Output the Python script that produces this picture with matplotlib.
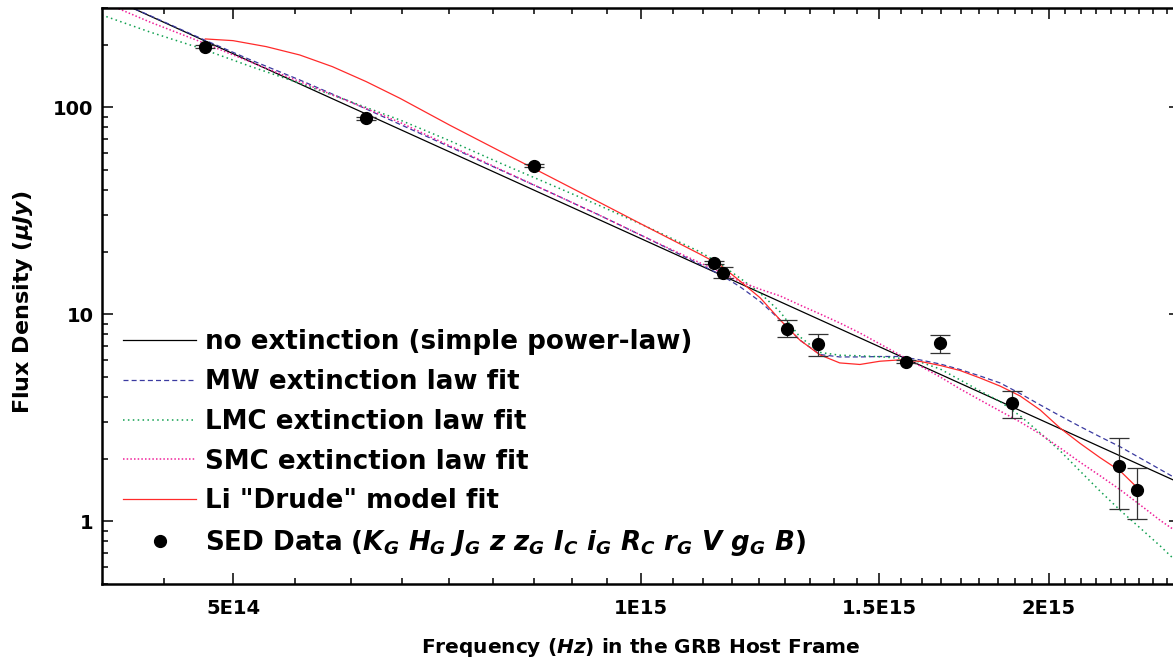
import numpy as np
import matplotlib
matplotlib.use("Agg")
import matplotlib.pyplot as plt
from matplotlib.ticker import FixedLocator, LogLocator, NullFormatter

# SED points (host-frame frequency in Hz, flux density in micro-Jy)
nu_data = [4.77e14, 6.27e14, 8.34e14, 1.132e15, 1.150e15, 1.282e15,
           1.352e15, 1.569e15, 1.663e15, 1.878e15, 2.253e15, 2.323e15]
flux_data = [196, 88.5, 52.2, 17.75, 15.9, 8.52, 7.19, 5.90, 7.24, 3.72, 1.85, 1.42]
flux_lo = [193, 87.2, 51.4, 17.5, 14.9, 7.74, 6.31, 5.82, 6.48, 3.17, 1.15, 1.02]
flux_hi = [199, 89.8, 53.0, 18.0, 16.9, 9.35, 8.03, 5.98, 7.94, 4.27, 2.53, 1.80]

# simple power law
nu_pl = [4.0e14, 1.0e15, 2.5e15]
flux_pl = [352, 23.2, 1.53]

# grid used for the MW / LMC / SMC fits
nu_fit = [4.00e14, 4.34e14, 4.73e14, 5.14e14, 5.60e14, 6.10e14, 6.64e14, 7.23e14,
          7.87e14, 8.57e14, 9.33e14, 1.015e15, 1.106e15, 1.144e15, 1.183e15,
          1.225e15, 1.267e15, 1.310e15, 1.356e15, 1.402e15, 1.451e15, 1.501e15,
          1.553e15, 1.607e15, 1.663e15, 1.720e15, 1.780e15, 1.841e15, 1.905e15,
          1.971e15, 2.039e15, 2.109e15, 2.182e15, 2.258e15, 2.336e15, 2.417e15,
          2.500e15]
flux_mw = [351.5, 277.6, 215.7, 170.4, 135.5, 106.4, 82.7, 64.3, 49.9, 38.8, 30.0,
           23.0, 17.4, 15.57, 13.61, 11.51, 9.39, 7.51, 6.39, 6.22, 6.22, 6.25, 6.25,
           6.02, 5.75, 5.41, 5.03, 4.66, 4.14, 3.65, 3.23, 2.87, 2.56, 2.29, 2.02,
           1.78, 1.57]
flux_lmc = [279.2, 231.1, 192.8, 158.3, 130.6, 106.7, 86.8, 68.8, 53.8, 42.4, 33.4,
            26.1, 20.0, 17.5, 14.98, 12.63, 10.26, 7.79, 6.54, 6.34, 6.30, 6.23, 6.13,
            5.88, 5.44, 4.82, 4.26, 3.79, 3.23, 2.67, 2.19, 1.75, 1.40, 1.13, 0.928,
            0.760, 0.615]
flux_smc = [324.4, 258.3, 207.5, 166.4, 133.0, 106.1, 84.5, 65.0, 50.2, 38.8, 30.0,
            23.0, 17.7, 16.0, 14.4, 13.2, 12.26, 11.09, 10.03, 9.08, 8.12, 7.19, 6.36,
            5.63, 4.98, 4.36, 3.85, 3.41, 3.02, 2.64, 2.26, 1.93, 1.66, 1.42, 1.20,
            1.01, 0.868]

# Li "Drude" model, only over the data range
nu_drude = [4.77e14, 5.00e14, 5.29e14, 5.60e14, 5.92e14, 6.27e14, 6.64e14, 7.23e14,
            7.87e14, 8.57e14, 9.33e14, 1.015e15, 1.106e15, 1.144e15, 1.183e15,
            1.225e15, 1.267e15, 1.310e15, 1.356e15, 1.402e15, 1.451e15, 1.501e15,
            1.553e15, 1.607e15, 1.663e15, 1.720e15, 1.780e15, 1.841e15, 1.905e15,
            1.971e15, 2.039e15, 2.109e15, 2.182e15, 2.258e15, 2.323e15]
flux_drude = [213.8, 209.8, 196.3, 178.9, 157.1, 133.0, 110.5, 81.8, 61.4, 46.1, 34.6,
              26.0, 19.5, 17.3, 14.5, 11.99, 9.39, 7.51, 6.36, 5.82, 5.72, 5.93, 6.02,
              5.92, 5.66, 5.35, 4.92, 4.50, 4.03, 3.45, 2.82, 2.38, 2.03, 1.75, 1.46]

x_ticks = [5e14, 1e15, 1.5e15, 2e15]
x_ticklabels = ["5E14", "1E15", "1.5E15", "2E15"]
y_ticks = [1, 10, 100]
y_ticklabels = ["1", "10", "100"]

plt.rcParams["font.family"] = ["DejaVu Sans"]
plt.rcParams["font.weight"] = "bold"
plt.rcParams["mathtext.fontset"] = "custom"
plt.rcParams["mathtext.it"] = "DejaVu Sans:italic:bold"
plt.rcParams["mathtext.rm"] = "DejaVu Sans:bold"
plt.rcParams["mathtext.bf"] = "DejaVu Sans:bold"

fig = plt.figure(figsize=(11.73, 6.63), dpi=100)
# right spine sits just past the image edge, like the cropped original
ax = fig.add_axes([0.0867, 0.1198, 0.9193, 0.8674])

ax.plot(nu_pl, flux_pl, color="black", lw=0.9,
        label="no extinction (simple power-law)")
ax.plot(nu_fit, flux_mw, color="#3a3aa0", lw=0.9, dashes=(4, 2.5),
        label="MW extinction law fit")
ax.plot(nu_fit, flux_lmc, color="#10a050", lw=1.1, dashes=(1, 2.2),
        label="LMC extinction law fit")
ax.plot(nu_fit, flux_smc, color="#f0209a", lw=1.1, dashes=(1, 1.4),
        label="SMC extinction law fit")
ax.plot(nu_drude, flux_drude, color="#ff2a2a", lw=0.9,
        label='Li "Drude" model fit')

flux_arr = np.array(flux_data)
yerr = [flux_arr - np.array(flux_lo), np.array(flux_hi) - flux_arr]
ax.errorbar(nu_data, flux_data, yerr=yerr, fmt="none", ecolor="#333333",
            elinewidth=0.9, capsize=7.5, capthick=0.9, zorder=3)
ax.plot(nu_data, flux_data, "o", color="black", ms=8.5, zorder=4,
        label=r"SED Data ($K_G$ $H_G$ $J_G$ $z$ $z_G$ $I_C$ $i_G$ $R_C$ $r_G$ $V$ $g_G$ $B$)")

ax.set_xscale("log")
ax.set_yscale("log")
ax.set_xlim(4e14, 2.5e15)
ax.set_ylim(0.5, 300)

ax.xaxis.set_major_locator(FixedLocator(x_ticks))
ax.set_xticklabels(x_ticklabels)
step = 5e14 / 9
minor_x = [5e14 + k * step for k in range(-1, 36) if k % 9 != 0]
ax.xaxis.set_minor_locator(FixedLocator(minor_x))
ax.xaxis.set_minor_formatter(NullFormatter())

ax.yaxis.set_major_locator(FixedLocator(y_ticks))
ax.set_yticklabels(y_ticklabels)
ax.yaxis.set_minor_locator(LogLocator(base=10, subs=np.arange(2, 10)))
ax.yaxis.set_minor_formatter(NullFormatter())

ax.tick_params(which="both", direction="in", top=True, right=True, width=1.1)
ax.tick_params(which="major", length=8, labelsize=14)
ax.tick_params(which="minor", length=4.5)
ax.tick_params(axis="x", which="major", pad=11)
ax.tick_params(axis="y", which="major", pad=6)
for sp in ax.spines.values():
    sp.set_linewidth(1.8)

ax.set_xlabel(r"Frequency ($Hz$) in the GRB Host Frame", fontsize=14.5,
              fontweight="bold", labelpad=13)
ax.set_ylabel(r"Flux Density ($\mu Jy$)", fontsize=16, fontweight="bold")
ax.yaxis.set_label_coords(-0.062, 0.49)

ax.legend(loc="upper left", bbox_to_anchor=(123 / 1173, 1 - 329 / 663),
          bbox_transform=fig.transFigure, frameon=False,
          handlelength=2.8, handletextpad=0.34, labelspacing=0.53,
          borderpad=0, borderaxespad=0, prop={"weight": "bold", "size": 18.8})

fig.savefig("out.png", dpi=100)
